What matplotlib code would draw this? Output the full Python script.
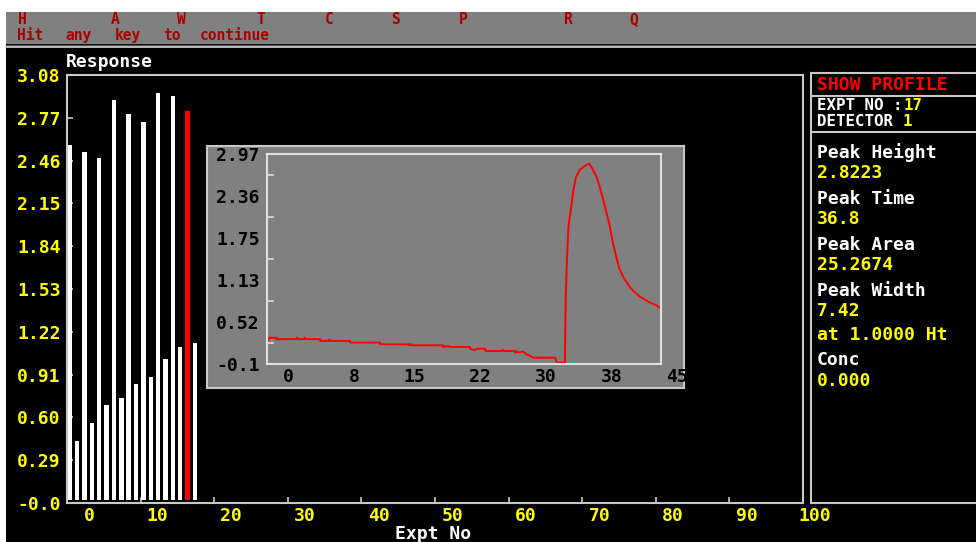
import numpy as np
import matplotlib
matplotlib.use("Agg")
import matplotlib.pyplot as plt
from matplotlib.patches import Rectangle
from matplotlib.lines import Line2D
from matplotlib.transforms import ScaledTranslation, blended_transform_factory

# ---------------- data ----------------
expt_no = list(range(1, 19))
response = [2.57, 0.43, 2.52, 0.56, 2.48, 0.69, 2.90, 0.74, 2.80, 0.84,
            2.74, 0.89, 2.95, 1.02, 2.93, 1.11, 2.82, 1.14]
selected_expt = 17

main_ylim = (-0.02, 3.08)
main_ytick_labels = ["-0.0", "0.29", "0.60", "0.91", "1.22", "1.53",
                     "1.84", "2.15", "2.46", "2.77", "3.08"]
main_xlim = (0, 100)
main_xtick_labels = ["0", "10", "20", "30", "40", "50", "60", "70", "80", "90", "100"]

profile_time = [0.0, 0.15, 0.3, 1.1, 1.17, 3.4, 3.45, 3.55, 4.3, 4.35, 4.45,
                6.08, 6.1, 7.1, 7.15, 7.3, 9.5, 9.52, 12.9, 12.92, 16.2, 16.25,
                16.35, 16.5, 16.52, 20.1, 20.12, 20.3, 20.4, 20.7, 20.8, 23.15,
                23.2, 23.7, 24.0, 24.9, 24.95, 26.8, 26.9, 27.0, 28.3, 28.35,
                28.5, 28.7, 29.2, 29.4, 29.6, 29.9, 30.4, 32.9, 33.07, 34.0,
                34.1, 34.2, 34.4, 34.66, 34.96, 35.27, 35.7, 36.3, 36.79, 37.17,
                37.63, 38.0, 38.6, 39.07, 39.5, 40.2, 40.7, 41.05, 41.4, 41.81,
                42.57, 43.52, 44.47, 45.0]
profile_resp = [0.29, 0.25, 0.29, 0.29, 0.27, 0.27, 0.29, 0.27, 0.27, 0.29, 0.27,
                0.27, 0.244, 0.244, 0.265, 0.244, 0.244, 0.22, 0.22, 0.195, 0.195, 0.18,
                0.195, 0.195, 0.18, 0.18, 0.156, 0.17, 0.156, 0.17, 0.156, 0.156,
                0.13, 0.11, 0.13, 0.13, 0.097, 0.097, 0.115, 0.097, 0.097, 0.073,
                0.09, 0.073, 0.09, 0.073, 0.049, 0.035, 0.0, 0.0, -0.074, -0.074,
                0.88, 1.27, 1.90, 2.14, 2.43, 2.63, 2.74, 2.80, 2.83, 2.75,
                2.63, 2.48, 2.19, 1.95, 1.66, 1.30, 1.17, 1.10, 1.03, 0.97,
                0.89, 0.815, 0.76, 0.72]
inset_xlim = (0, 45)
inset_ylim = (-0.0925, 2.97)
inset_xtick_labels = ["0", "8", "15", "22", "30", "38", "45"]
inset_ytick_labels = ["-0.1", "0.52", "1.13", "1.75", "2.36", "2.97"]

menu_keys = ["H", "A", "W", "T", "C", "S", "P", "R", "Q"]
menu_x = [22, 115, 181, 261, 329, 396, 463, 568, 634]
prompt = "Hit any key to continue"

panel_title = "SHOW PROFILE"
expt_label, expt_value = "EXPT NO :", "17"
det_label, det_value = "DETECTOR", "1"
result_names = ["Peak Height", "Peak Time", "Peak Area", "Peak Width", "Conc"]
result_values = ["2.8223", "36.8", "25.2674", "7.42\nat 1.0000 Ht", "0.000"]

# ---------------- style ----------------
W, H = 976, 542
BG = "#000000"
LINE = "#c8c8c8"
GREY = "#808080"
YEL = "#ffff00"
RED = "#ff0000"
DRED = "#aa0000"
MONO = "DejaVu Sans Mono"
FONT = dict(family=MONO, weight="bold", size=13)
FONT_S = dict(family=MONO, weight="bold", size=11.3)
FONT_B = dict(family=MONO, weight="bold", size=10.5)
CELL = 12.2  # screen character cell width in pixels

fig = plt.figure(figsize=(W / 100, H / 100), dpi=100, facecolor=BG)


def fr(x0, y0, x1, y1):
    return [x0 / W, 1 - y1 / H, (x1 - x0) / W, (y1 - y0) / H]


# overlay for screen furniture (pixel coordinates)
ov = fig.add_axes([0, 0, 1, 1], zorder=0)
ov.set_xlim(0, W)
ov.set_ylim(H, 0)
ov.axis("off")
ov.add_patch(Rectangle((0, 0), W, 12, color="white", lw=0))
ov.add_patch(Rectangle((6, 12), W - 6, 32, color=GREY, lw=0))
ov.add_patch(Rectangle((0, 0), 6, H, color="white", lw=0))
ov.add_line(Line2D([6, W], [44.5, 44.5], color="#505050", lw=1))
ov.add_line(Line2D([6, W], [46.5, 46.5], color="#d8d8d8", lw=1.2))
for k, x in zip(menu_keys, menu_x):
    ov.text(x, 20, k, color=DRED, ha="center", va="center", **FONT_B)
# prompt laid out word by word on the screen's character grid
col = 0
for word in prompt.split(" "):
    ov.text(17 + col * CELL, 35.5, word, color=DRED, ha="left", va="center", **FONT_B)
    col += len(word) + 1

# right panel
for xs, ys in [([811, 811], [73, 503]), ([811, W], [73, 73]), ([811, W], [95.5, 95.5]),
               ([811, W], [131.5, 131.5]), ([811, W], [503, 503])]:
    ov.add_line(Line2D(xs, ys, color=LINE, lw=1.5))
px = 817
ov.text(px, 85, panel_title, color=RED, ha="left", va="center", **FONT)
t1 = ov.text(px, 106, expt_label, color="white", ha="left", va="center", **FONT_S)
ov.annotate(expt_value, xy=(1, 0.5), xycoords=t1, xytext=(1, 0),
            textcoords="offset points", color=YEL, ha="left", va="center", **FONT_S)
t2 = ov.text(px, 122, det_label, color="white", ha="left", va="center", **FONT_S)
ov.annotate(det_value, xy=(1, 0.5), xycoords=t2, xytext=(0.602 * 11.3, 0),
            textcoords="offset points", color=YEL, ha="left", va="center", **FONT_S)
name_y = [153, 199, 245, 291, 360]
for name, val, y in zip(result_names, result_values, name_y):
    ov.text(px, y, name, color="white", ha="left", va="center", **FONT)
    for j, ln in enumerate(val.split("\n")):
        ov.text(px, y + 20.5 + j * 23, ln, color=YEL, ha="left", va="center", **FONT)

ov.text(66, 62, "Response", color="white", ha="left", va="center", **FONT)
ov.text(433, 534, "Expt No", color="white", ha="center", va="center", **FONT)

# ---------------- main bar chart ----------------
ax = fig.add_axes(fr(67, 75, 803, 503), zorder=1)
ax.set_facecolor(BG)
ax.set_xlim(*main_xlim)
ax.set_ylim(*main_ylim)
ax.set_axisbelow(True)
colors = [RED if e == selected_expt else "white" for e in expt_no]
ax.bar(np.array(expt_no) - 0.62, response, width=0.6, color=colors, lw=0, zorder=2)
for s in ax.spines.values():
    s.set_color(LINE)
    s.set_linewidth(1.5)
yt = np.linspace(main_ylim[0], main_ylim[1], len(main_ytick_labels))
ax.set_yticks(yt, main_ytick_labels)
xt = np.linspace(main_xlim[0], main_xlim[1], len(main_xtick_labels))
ax.set_xticks(xt)
ax.tick_params(axis="both", direction="in", length=4, width=1.2, color=LINE)
ax.tick_params(axis="y", labelcolor=YEL, pad=4.5, labelsize=13)
ax.tick_params(axis="x", labelbottom=False)
for lab in ax.get_yticklabels():
    lab.set_fontfamily(MONO)
    lab.set_fontweight("bold")
bt = blended_transform_factory(ax.transData, ax.transAxes)
off = ScaledTranslation(28 / 100, -13 / 100, fig.dpi_scale_trans)
for v, lab in zip(xt, main_xtick_labels):
    ax.text(v, 0, lab, transform=bt + off, color=YEL, ha="right", va="center",
            clip_on=False, **FONT)

# ---------------- inset profile ----------------
box = fig.add_axes(fr(207, 146, 684, 388), zorder=3)
box.set_facecolor(GREY)
box.set_xticks([])
box.set_yticks([])
for s in box.spines.values():
    s.set_color(LINE)
    s.set_linewidth(1.5)

ins = fig.add_axes(fr(266.7, 154, 661.3, 364), zorder=4)
ins.set_facecolor(GREY)
ins.set_xlim(*inset_xlim)
ins.set_ylim(*inset_ylim)
ins.plot(profile_time, profile_resp, color=RED, lw=1.4)
for s in ins.spines.values():
    s.set_color("#e0e0e0")
    s.set_linewidth(1.5)
iyt = np.linspace(inset_ylim[0], inset_ylim[1], len(inset_ytick_labels))
ins.set_yticks(iyt, inset_ytick_labels)
ins.set_yticks((iyt[:-1] + iyt[1:]) / 2, minor=True)
ins.tick_params(axis="y", which="major", length=0, pad=5, labelcolor="black", labelsize=13)
ins.tick_params(axis="y", which="minor", direction="in", length=5, width=1.2, color="#e0e0e0")
for lab in ins.get_yticklabels():
    lab.set_fontfamily(MONO)
    lab.set_fontweight("bold")
ixt = np.linspace(inset_xlim[0], inset_xlim[1], len(inset_xtick_labels))
ins.set_xticks([])
bti = blended_transform_factory(ins.transData, ins.transAxes)
offi = ScaledTranslation(27 / 100, -13 / 100, fig.dpi_scale_trans)
for v, lab in zip(ixt, inset_xtick_labels):
    ins.text(v, 0, lab, transform=bti + offi, color="black", ha="right", va="center",
             clip_on=False, **FONT)

fig.savefig("out.png", dpi=100, facecolor=BG)
